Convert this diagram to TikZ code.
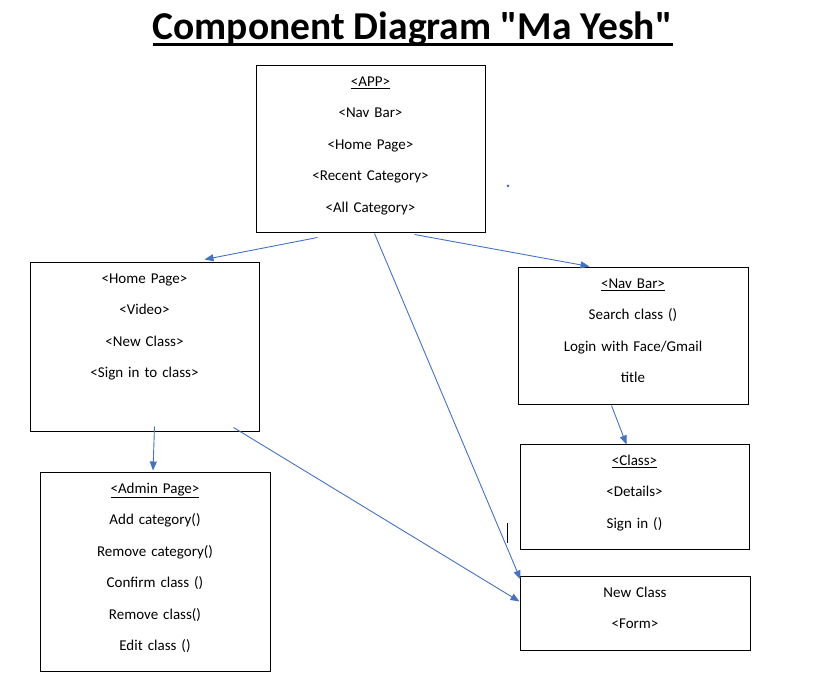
\documentclass[tikz,border=0pt]{standalone}
\usepackage{fontspec}
\setmainfont{Carlito}
\usetikzlibrary{arrows.meta}
\definecolor{arrowblue}{HTML}{4472C4}
\tikzset{
  comp/.style={draw, line width=1pt, inner sep=0pt},
  lines/.style={anchor=base, text width=225pt, align=center, inner sep=0pt,
    font=\fontsize{15}{31.5}\selectfont},
  flow/.style={draw=arrowblue, line width=0.9pt, -{Triangle[length=9pt,width=7pt]}}
}

\begin{document}
\begin{tikzpicture}[x=1pt,y=1pt]
  \useasboundingbox (0,0) rectangle (830,682);

  % title
  \node[font=\fontsize{39.5}{44}\selectfont\bfseries, inner sep=0pt, anchor=base]
    (title) at (412.5,642) {Component Diagram \textquotedbl Ma Yesh\textquotedbl};
  \draw[line width=3pt] ([yshift=-5pt]title.base west) -- ([yshift=-5pt]title.base east);

  % components
  \node[comp, minimum width=229pt, minimum height=167pt] (app) at (370.5,532.5) {};
  \node[comp, minimum width=229pt, minimum height=169pt] (home) at (144.5,334.5) {};
  \node[comp, minimum width=230pt, minimum height=137pt] (nav) at (633,345.5) {};
  \node[comp, minimum width=230pt, minimum height=199pt] (admin) at (155,109.5) {};
  \node[comp, minimum width=229pt, minimum height=105pt] (class) at (634.5,184.5) {};
  \node[comp, minimum width=230pt, minimum height=74pt] (newclass) at (635,68) {};

  \node[lines] (app text) at ([yshift=-21pt]app.north)
    {\underline{<APP>}\\<Nav Bar>\\<Home Page>\\<Recent Category>\\<All Category>};
  \node[lines] (home text) at ([yshift=-21pt]home.north)
    {<Home Page>\\<Video>\\<New Class>\\<Sign in to class>};
  \node[lines] (nav text) at ([yshift=-21pt]nav.north)
    {\underline{<Nav Bar>}\\Search class ()\\Login with Face/Gmail\\title};
  \node[lines] (admin text) at ([yshift=-21pt]admin.north)
    {\underline{<Admin Page>}\\Add category()\\Remove category()\\Confirm class ()\\Remove class()\\Edit class ()};
  \node[lines] (class text) at ([yshift=-21pt]class.north)
    {\underline{<Class>}\\<Details>\\Sign in ()};
  \node[lines] (newclass text) at ([yshift=-21pt]newclass.north)
    {New Class\\<Form>};

  % stray marks
  \fill[arrowblue] (508,496) circle (1.5pt);
  \draw[line width=1pt] (507,159) -- (507,139);

  % connectors
  \draw[flow] ([xshift=62pt,yshift=-4pt]app.south west) -- ([xshift=175pt,yshift=3pt]home.north west);
  \draw[flow] ([xshift=159pt,yshift=-1pt]app.south west) -- ([xshift=72pt,yshift=1pt]nav.north west);
  \draw[flow] ([xshift=119pt]app.south west) -- ([xshift=1pt,yshift=-3pt]newclass.north west);
  \draw[flow] ([xshift=125pt,yshift=6pt]home.south west) -- ([xshift=-2pt,yshift=2pt]admin.north);
  \draw[flow] ([xshift=204pt,yshift=5pt]home.south west) -- ([yshift=-25pt]newclass.north west);
  \draw[flow] ([xshift=94pt]nav.south west) -- ([xshift=107pt]class.north west);
\end{tikzpicture}
\end{document}
